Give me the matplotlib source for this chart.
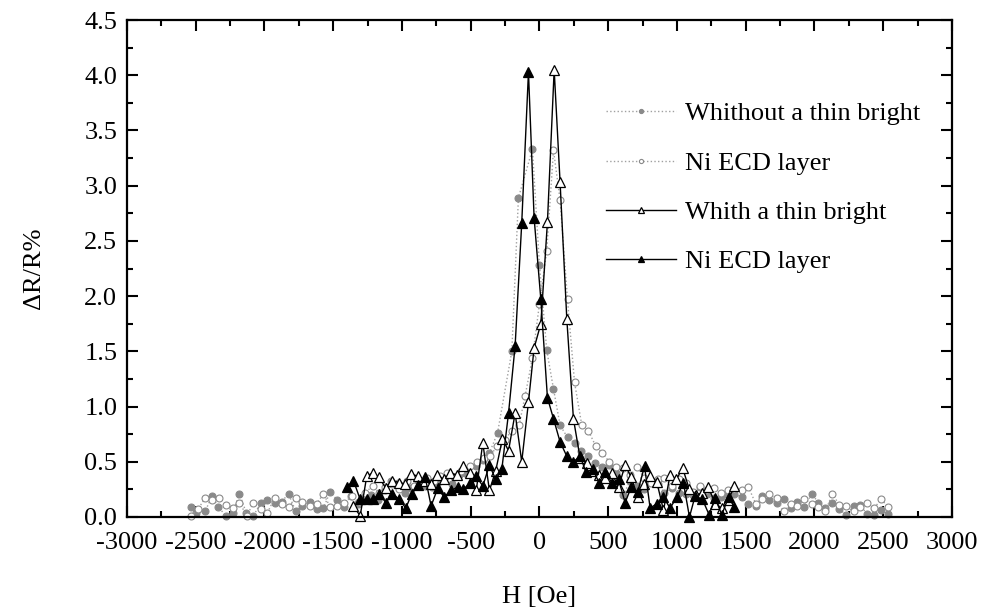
import matplotlib
matplotlib.use("Agg")
import matplotlib.pyplot as plt
from matplotlib.ticker import MultipleLocator, FormatStrFormatter

# Whithout a thin bright Ni ECD layer (filled grey circles)
h_wo_a = [-2536, -2497, -2431, -2383, -2335, -2281, -2231, -2182, -2133, -2080,
          -2027, -1978, -1927, -1874, -1825, -1772, -1724, -1668, -1620, -1571,
          -1522, -1469, -1420, -1372, -1323, -1274, -1225, -1176, -1127, -1078,
          -1029, -980, -931, -882, -833, -784, -735, -686, -637, -588,
          -539, -463, -412, -364, -305, -201, -153, -51, 0, 53,
          102, 150, 204, 255, 303, 356, 405, 453, 507, 555,
          611, 659, 713, 761, 812, 860, 909, 962, 1016, 1067,
          1115, 1168, 1217, 1270, 1319, 1370, 1418, 1471, 1520, 1573,
          1622, 1670, 1726, 1775, 1828, 1876, 1927, 1980, 2029, 2078,
          2131, 2182, 2230, 2284, 2332, 2380, 2434, 2485, 2538]
r_wo_a = [0.09, 0.04, 0.05, 0.19, 0.09, 0.01, 0.04, 0.21, 0.04, 0.01,
          0.13, 0.15, 0.13, 0.14, 0.21, 0.05, 0.10, 0.14, 0.07, 0.08,
          0.23, 0.15, 0.09, 0.19, 0.12, 0.17, 0.20, 0.15, 0.24, 0.33,
          0.31, 0.22, 0.26, 0.30, 0.28, 0.27, 0.32, 0.36, 0.30, 0.38,
          0.40, 0.46, 0.52, 0.58, 0.76, 1.50, 2.89, 3.33, 2.28, 1.51,
          1.16, 0.83, 0.72, 0.67, 0.60, 0.55, 0.49, 0.45, 0.47, 0.40,
          0.20, 0.33, 0.28, 0.25, 0.33, 0.30, 0.22, 0.26, 0.22, 0.21,
          0.20, 0.27, 0.21, 0.17, 0.18, 0.20, 0.21, 0.18, 0.12, 0.10,
          0.19, 0.15, 0.13, 0.16, 0.08, 0.14, 0.09, 0.21, 0.13, 0.08,
          0.13, 0.07, 0.02, 0.10, 0.11, 0.03, 0.02, 0.06, 0.03]

# second "without" run (open grey circles)
h_wo_b = [-2536, -2485, -2431, -2383, -2330, -2278, -2231, -2182, -2128, -2080,
          -2027, -1978, -1927, -1874, -1825, -1772, -1724, -1668, -1620, -1571,
          -1522, -1469, -1420, -1365, -1316, -1267, -1214, -1165, -1122, -1070,
          -1020, -965, -916, -868, -818, -770, -720, -670, -620, -570,
          -504, -456, -407, -359, -310, -253, -201, -148, -104, -51,
          0, 53, 102, 150, 204, 255, 308, 356, 410, 458,
          507, 555, 611, 659, 713, 761, 812, 860, 909, 962,
          1016, 1067, 1115, 1168, 1217, 1270, 1319, 1370, 1418, 1471,
          1520, 1573, 1622, 1670, 1726, 1775, 1828, 1876, 1927, 1981,
          2029, 2078, 2131, 2180, 2230, 2284, 2332, 2380, 2434, 2485,
          2538]
r_wo_b = [0.01, 0.07, 0.17, 0.15, 0.17, 0.11, 0.08, 0.13, 0.01, 0.13,
          0.07, 0.04, 0.17, 0.12, 0.09, 0.17, 0.14, 0.10, 0.12, 0.21,
          0.09, 0.10, 0.13, 0.19, 0.14, 0.22, 0.28, 0.22, 0.27, 0.30,
          0.25, 0.33, 0.28, 0.30, 0.35, 0.33, 0.37, 0.40, 0.36, 0.42,
          0.46, 0.50, 0.53, 0.55, 0.64, 0.70, 0.78, 0.83, 1.10, 1.44,
          1.93, 2.41, 3.32, 2.87, 1.97, 1.22, 0.83, 0.78, 0.64, 0.58,
          0.50, 0.45, 0.44, 0.38, 0.45, 0.35, 0.31, 0.34, 0.35, 0.28,
          0.34, 0.31, 0.23, 0.28, 0.24, 0.26, 0.22, 0.24, 0.25, 0.24,
          0.27, 0.12, 0.16, 0.21, 0.17, 0.05, 0.12, 0.10, 0.16, 0.12,
          0.09, 0.05, 0.21, 0.11, 0.10, 0.05, 0.09, 0.13, 0.08, 0.16,
          0.09]

# Whith a thin bright Ni ECD layer (open triangles)
h_w_a = [-1353, -1304, -1256, -1212, -1166, -1118, -1069, -1020, -975, -936,
         -885, -836, -788, -744, -693, -650, -601, -553, -506, -460,
         -412, -364, -318, -269, -225, -177, -129, -80, -39, 10,
         58, 107, 150, 199, 247, 296, 344, 390, 435, 480,
         526, 575, 623, 667, 715, 760, 805, 853, 902, 950,
         994, 1042, 1090, 1135, 1185, 1229, 1278, 1326, 1372, 1418]
r_w_a = [0.10, 0.01, 0.37, 0.40, 0.36, 0.26, 0.33, 0.31, 0.30, 0.39,
         0.37, 0.33, 0.30, 0.38, 0.34, 0.40, 0.38, 0.46, 0.40, 0.24,
         0.67, 0.24, 0.42, 0.71, 0.60, 0.94, 0.50, 1.04, 1.53, 1.75,
         2.67, 4.05, 3.03, 1.79, 0.89, 0.53, 0.49, 0.42, 0.38, 0.35,
         0.40, 0.27, 0.47, 0.36, 0.18, 0.30, 0.37, 0.32, 0.06, 0.38,
         0.34, 0.44, 0.25, 0.20, 0.22, 0.27, 0.12, 0.08, 0.15, 0.28]

# second "with" run (filled triangles)
h_w_b = [-1401, -1353, -1304, -1256, -1212, -1164, -1118, -1069, -1020, -972,
         -929, -880, -831, -788, -740, -693, -645, -596, -553, -504,
         -460, -412, -364, -318, -274, -225, -177, -129, -80, -39,
         10, 58, 102, 150, 199, 247, 296, 337, 388, 434,
         478, 526, 575, 623, 667, 715, 764, 805, 853, 902,
         950, 999, 1047, 1091, 1132, 1185, 1234, 1278, 1326, 1375,
         1418]
r_w_b = [0.27, 0.33, 0.16, 0.16, 0.16, 0.21, 0.13, 0.21, 0.16, 0.08,
         0.21, 0.29, 0.36, 0.10, 0.26, 0.18, 0.24, 0.27, 0.25, 0.31,
         0.37, 0.28, 0.47, 0.34, 0.43, 0.94, 1.55, 2.66, 4.03, 2.71,
         1.97, 1.08, 0.89, 0.68, 0.55, 0.50, 0.55, 0.41, 0.43, 0.31,
         0.41, 0.31, 0.34, 0.13, 0.27, 0.23, 0.46, 0.08, 0.12, 0.18,
         0.08, 0.18, 0.31, 0.00, 0.19, 0.16, 0.02, 0.17, 0.02, 0.18,
         0.09]

labels = ["Whithout a thin bright", "Ni ECD layer",
          "Whith a thin bright", "Ni ECD layer"]

plt.rcParams['font.family'] = ['Liberation Serif', 'DejaVu Serif']
plt.rcParams['axes.unicode_minus'] = False

fig = plt.figure(figsize=(9.82, 6.14), dpi=100)
ax = fig.add_axes([0.1293, 0.158, 0.8401, 0.8094])

grey = '#8a8a8a'
ax.plot(h_wo_a, r_wo_a, ls=':', lw=1.0, color='#a0a0a0', marker='o', ms=5,
        mfc=grey, mec=grey, mew=0.8, clip_on=False, label=labels[0])
ax.plot(h_wo_b, r_wo_b, ls=':', lw=1.0, color='#a0a0a0', marker='o', ms=5,
        mfc='white', mec=grey, mew=0.8, clip_on=False, label=labels[1])
ax.plot(h_w_a, r_w_a, ls='-', lw=1.0, color='black', marker='^', ms=6.5,
        mfc='white', mec='black', mew=0.9, clip_on=False, label=labels[2])
ax.plot(h_w_b, r_w_b, ls='-', lw=1.0, color='black', marker='^', ms=6.5,
        mfc='black', mec='black', mew=0.9, clip_on=False, label=labels[3])

ax.set_xlim(-3000, 3000)
ax.set_ylim(0, 4.5)
ax.xaxis.set_major_locator(MultipleLocator(500))
ax.xaxis.set_minor_locator(MultipleLocator(250))
ax.yaxis.set_major_locator(MultipleLocator(0.5))
ax.yaxis.set_minor_locator(MultipleLocator(0.25))
ax.yaxis.set_major_formatter(FormatStrFormatter('%.1f'))

for sp in ax.spines.values():
    sp.set_linewidth(1.6)
ax.tick_params(which='both', direction='in', top=True, right=True,
               width=1.5, labelsize=19)
ax.tick_params(axis='x', pad=11)
ax.tick_params(axis='y', pad=7)
ax.tick_params(which='major', length=8)
ax.tick_params(which='minor', length=4.5)

ax.set_xlabel("H [Oe]", fontsize=19, labelpad=23)
ax.set_ylabel("\u0394R/R%", fontsize=19, labelpad=28)

ax.legend(loc='upper left', bbox_to_anchor=(0.5806, 0.835), frameon=False,
          fontsize=19, handlelength=2.65, handletextpad=0.34,
          labelspacing=0.98, borderpad=0, borderaxespad=0, markerscale=0.6)

fig.savefig("out.png", dpi=100)
